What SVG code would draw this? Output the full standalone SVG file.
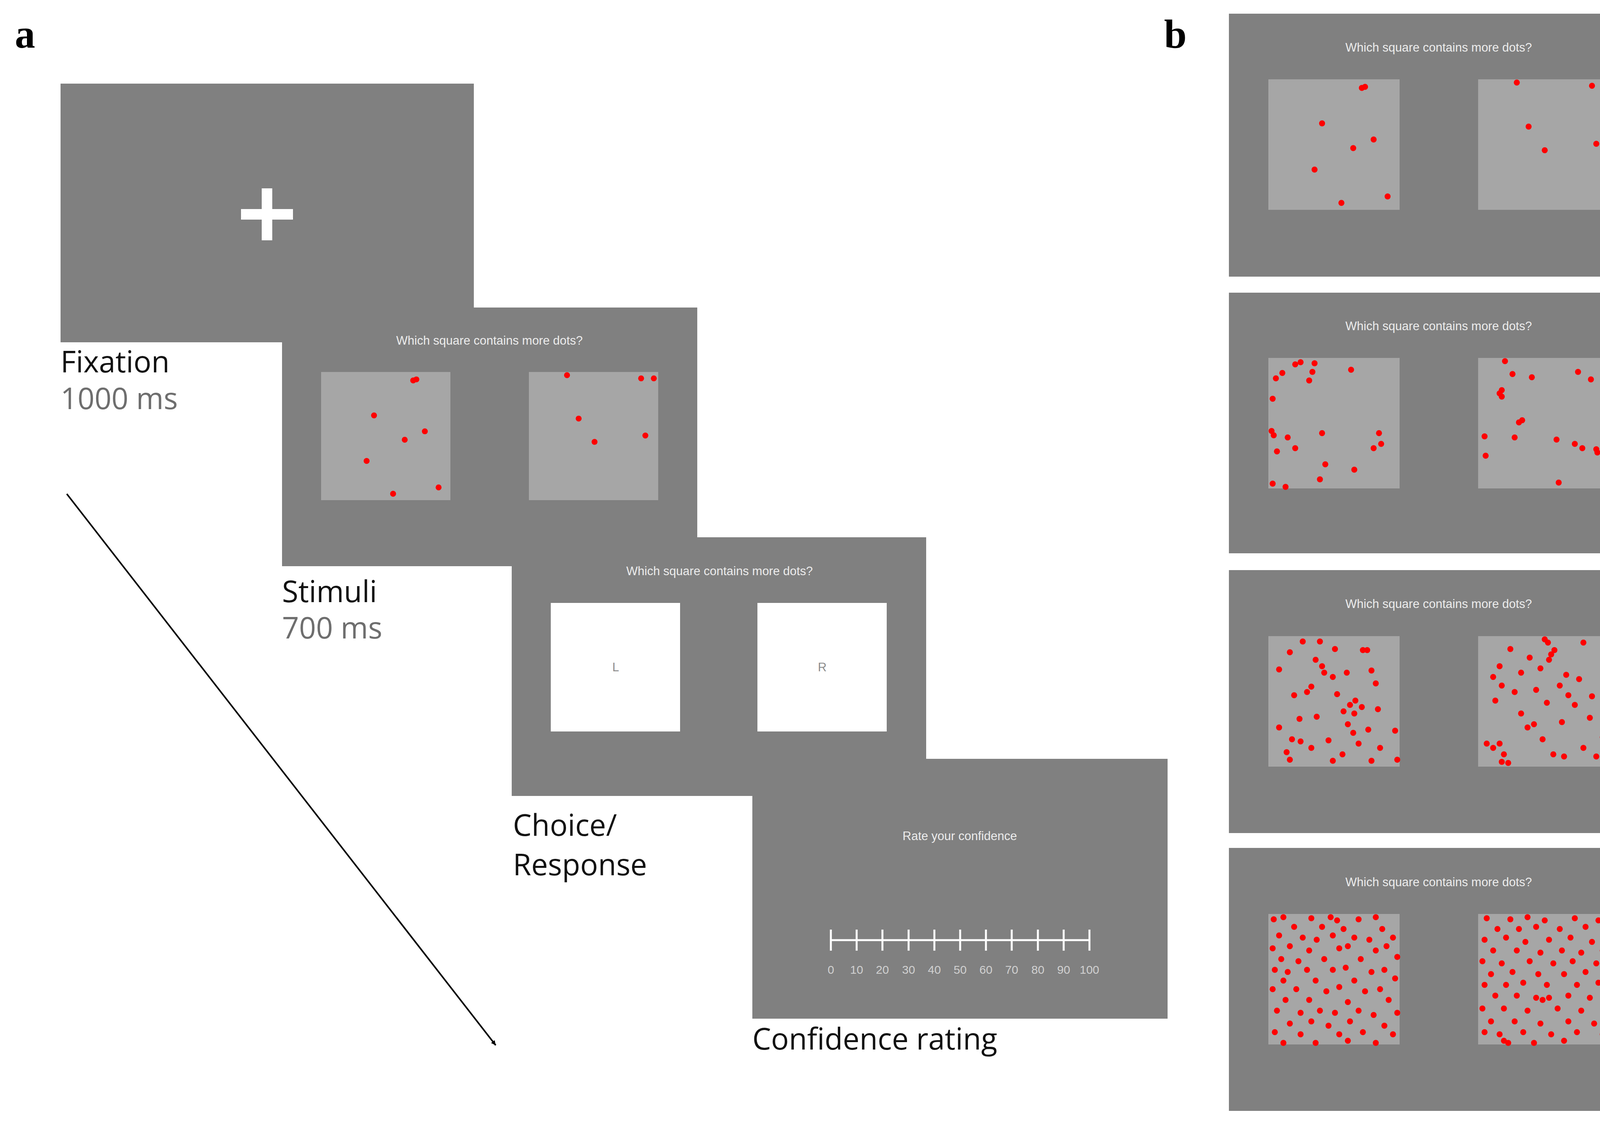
<svg xmlns="http://www.w3.org/2000/svg" width="4253" height="2874" viewBox="0 0 4253 2874">
<style>
.scr{fill:#808080}
.sq{fill:#a6a6a6}
.wsq{fill:#ffffff}
.q{font-family:"Liberation Sans",Arial,sans-serif;font-size:31px;fill:#ececec;text-anchor:middle}
.lab{font-family:"Open Sans","Liberation Sans",sans-serif;font-size:76px;fill:#111}
.sub{font-family:"Open Sans","Liberation Sans",sans-serif;font-size:76px;fill:#6e6e6e}
.pl{font-family:"Liberation Serif","Times New Roman",serif;font-weight:bold;font-size:104px;fill:#000}
.tk{font-family:"Liberation Sans",Arial,sans-serif;font-size:30px;fill:#d0d0d0;text-anchor:middle}
.d circle{fill:#ff0000}
</style>
<defs>
<marker id="ah" markerWidth="12" markerHeight="12" refX="10" refY="5" orient="auto" markerUnits="userSpaceOnUse" viewBox="0 0 10 10"><path d="M0,0 L10,5 L0,10 z" fill="#000"/></marker>
<g id="p1L" class="d"><circle cx="87" cy="8" r="2.8"/><circle cx="90" cy="7" r="2.8"/><circle cx="50" cy="41" r="2.8"/><circle cx="98" cy="56" r="2.8"/><circle cx="79" cy="64" r="2.8"/><circle cx="43" cy="84" r="2.8"/><circle cx="68" cy="115" r="2.8"/><circle cx="111" cy="109" r="2.8"/></g>
<g id="p1R" class="d"><circle cx="36" cy="3" r="2.8"/><circle cx="106" cy="6" r="2.8"/><circle cx="118" cy="6" r="2.8"/><circle cx="47" cy="44" r="2.8"/><circle cx="62" cy="66" r="2.8"/><circle cx="110" cy="60" r="2.8"/></g>
<g id="p2L" class="d"><circle cx="30" cy="4" r="2.8"/><circle cx="25" cy="6" r="2.8"/><circle cx="43" cy="5" r="2.8"/><circle cx="13" cy="14" r="2.8"/><circle cx="41" cy="13" r="2.8"/><circle cx="38" cy="21" r="2.8"/><circle cx="7" cy="19" r="2.8"/><circle cx="77" cy="11" r="2.8"/><circle cx="4" cy="38" r="2.8"/><circle cx="3" cy="68" r="2.8"/><circle cx="5" cy="72" r="2.8"/><circle cx="18" cy="74" r="2.8"/><circle cx="8" cy="87" r="2.8"/><circle cx="50" cy="70" r="2.8"/><circle cx="103" cy="70" r="2.8"/><circle cx="105" cy="80" r="2.8"/><circle cx="53" cy="99" r="2.8"/><circle cx="80" cy="104" r="2.8"/><circle cx="48" cy="113" r="2.8"/><circle cx="4" cy="117" r="2.8"/><circle cx="16" cy="120" r="2.8"/><circle cx="25" cy="84" r="2.8"/><circle cx="98" cy="84" r="2.8"/></g>
<g id="p2R" class="d"><circle cx="25" cy="3" r="2.8"/><circle cx="32" cy="15" r="2.8"/><circle cx="22" cy="30" r="2.8"/><circle cx="20" cy="33" r="2.8"/><circle cx="22" cy="36" r="2.8"/><circle cx="50" cy="18" r="2.8"/><circle cx="93" cy="13" r="2.8"/><circle cx="105" cy="20" r="2.8"/><circle cx="38" cy="60" r="2.8"/><circle cx="41" cy="58" r="2.8"/><circle cx="6" cy="73" r="2.8"/><circle cx="34" cy="74" r="2.8"/><circle cx="73" cy="76" r="2.8"/><circle cx="90" cy="80" r="2.8"/><circle cx="97" cy="84" r="2.8"/><circle cx="110" cy="85" r="2.8"/><circle cx="111" cy="88" r="2.8"/><circle cx="7" cy="91" r="2.8"/><circle cx="75" cy="116" r="2.8"/></g>
<g id="p3L" class="d"><circle cx="32" cy="5" r="2.8"/><circle cx="48" cy="5" r="2.8"/><circle cx="88" cy="13" r="2.8"/><circle cx="92" cy="13" r="2.8"/><circle cx="62" cy="12" r="2.8"/><circle cx="20" cy="15" r="2.8"/><circle cx="44" cy="22" r="2.8"/><circle cx="10" cy="31" r="2.8"/><circle cx="50" cy="28" r="2.8"/><circle cx="52" cy="34" r="2.8"/><circle cx="73" cy="34" r="2.8"/><circle cx="96" cy="32" r="2.8"/><circle cx="60" cy="38" r="2.8"/><circle cx="40" cy="47" r="2.8"/><circle cx="36" cy="52" r="2.8"/><circle cx="24" cy="55" r="2.8"/><circle cx="64" cy="54" r="2.8"/><circle cx="100" cy="44" r="2.8"/><circle cx="81" cy="60" r="2.8"/><circle cx="76" cy="64" r="2.8"/><circle cx="87" cy="66" r="2.8"/><circle cx="70" cy="70" r="2.8"/><circle cx="80" cy="72" r="2.8"/><circle cx="45" cy="75" r="2.8"/><circle cx="10" cy="85" r="2.8"/><circle cx="29" cy="77" r="2.8"/><circle cx="102" cy="68" r="2.8"/><circle cx="118" cy="88" r="2.8"/><circle cx="74" cy="82" r="2.8"/><circle cx="93" cy="87" r="2.8"/><circle cx="22" cy="96" r="2.8"/><circle cx="30" cy="98" r="2.8"/><circle cx="56" cy="97" r="2.8"/><circle cx="84" cy="100" r="2.8"/><circle cx="104" cy="104" r="2.8"/><circle cx="17" cy="108" r="2.8"/><circle cx="40" cy="104" r="2.8"/><circle cx="69" cy="110" r="2.8"/><circle cx="20" cy="115" r="2.8"/><circle cx="60" cy="116" r="2.8"/><circle cx="96" cy="116" r="2.8"/><circle cx="120" cy="115" r="2.8"/><circle cx="79" cy="90" r="2.8"/></g>
<g id="p3R" class="d"><circle cx="62" cy="3" r="2.8"/><circle cx="65" cy="6" r="2.8"/><circle cx="98" cy="6" r="2.8"/><circle cx="71" cy="13" r="2.8"/><circle cx="68" cy="17" r="2.8"/><circle cx="30" cy="12" r="2.8"/><circle cx="48" cy="20" r="2.8"/><circle cx="66" cy="22" r="2.8"/><circle cx="119" cy="24" r="2.8"/><circle cx="20" cy="28" r="2.8"/><circle cx="14" cy="38" r="2.8"/><circle cx="40" cy="34" r="2.8"/><circle cx="58" cy="30" r="2.8"/><circle cx="82" cy="36" r="2.8"/><circle cx="94" cy="40" r="2.8"/><circle cx="22" cy="46" r="2.8"/><circle cx="34" cy="52" r="2.8"/><circle cx="54" cy="50" r="2.8"/><circle cx="76" cy="46" r="2.8"/><circle cx="84" cy="55" r="2.8"/><circle cx="106" cy="56" r="2.8"/><circle cx="16" cy="60" r="2.8"/><circle cx="64" cy="62" r="2.8"/><circle cx="90" cy="64" r="2.8"/><circle cx="40" cy="72" r="2.8"/><circle cx="52" cy="82" r="2.8"/><circle cx="46" cy="85" r="2.8"/><circle cx="78" cy="80" r="2.8"/><circle cx="104" cy="76" r="2.8"/><circle cx="8" cy="100" r="2.8"/><circle cx="14" cy="104" r="2.8"/><circle cx="20" cy="100" r="2.8"/><circle cx="24" cy="110" r="2.8"/><circle cx="28" cy="118" r="2.8"/><circle cx="22" cy="117" r="2.8"/><circle cx="70" cy="110" r="2.8"/><circle cx="80" cy="112" r="2.8"/><circle cx="98" cy="104" r="2.8"/><circle cx="116" cy="94" r="2.8"/><circle cx="110" cy="112" r="2.8"/><circle cx="60" cy="96" r="2.8"/></g>
<g id="p4L" class="d"><circle cx="5" cy="5" r="2.8"/><circle cx="14" cy="3" r="2.8"/><circle cx="40" cy="4" r="2.8"/><circle cx="58" cy="3" r="2.8"/><circle cx="64" cy="6" r="2.8"/><circle cx="84" cy="5" r="2.8"/><circle cx="100" cy="3" r="2.8"/><circle cx="24" cy="12" r="2.8"/><circle cx="50" cy="12" r="2.8"/><circle cx="70" cy="14" r="2.8"/><circle cx="106" cy="14" r="2.8"/><circle cx="10" cy="20" r="2.8"/><circle cx="32" cy="22" r="2.8"/><circle cx="45" cy="24" r="2.8"/><circle cx="60" cy="20" r="2.8"/><circle cx="80" cy="22" r="2.8"/><circle cx="94" cy="24" r="2.8"/><circle cx="116" cy="22" r="2.8"/><circle cx="4" cy="32" r="2.8"/><circle cx="20" cy="30" r="2.8"/><circle cx="38" cy="34" r="2.8"/><circle cx="66" cy="32" r="2.8"/><circle cx="74" cy="30" r="2.8"/><circle cx="100" cy="34" r="2.8"/><circle cx="110" cy="30" r="2.8"/><circle cx="12" cy="42" r="2.8"/><circle cx="28" cy="44" r="2.8"/><circle cx="52" cy="42" r="2.8"/><circle cx="86" cy="42" r="2.8"/><circle cx="120" cy="40" r="2.8"/><circle cx="6" cy="52" r="2.8"/><circle cx="18" cy="54" r="2.8"/><circle cx="36" cy="52" r="2.8"/><circle cx="60" cy="52" r="2.8"/><circle cx="72" cy="50" r="2.8"/><circle cx="96" cy="54" r="2.8"/><circle cx="108" cy="52" r="2.8"/><circle cx="14" cy="62" r="2.8"/><circle cx="44" cy="62" r="2.8"/><circle cx="80" cy="62" r="2.8"/><circle cx="118" cy="60" r="2.8"/><circle cx="4" cy="70" r="2.8"/><circle cx="26" cy="70" r="2.8"/><circle cx="54" cy="72" r="2.8"/><circle cx="66" cy="68" r="2.8"/><circle cx="90" cy="72" r="2.8"/><circle cx="104" cy="70" r="2.8"/><circle cx="16" cy="80" r="2.8"/><circle cx="38" cy="80" r="2.8"/><circle cx="74" cy="82" r="2.8"/><circle cx="112" cy="80" r="2.8"/><circle cx="8" cy="90" r="2.8"/><circle cx="30" cy="92" r="2.8"/><circle cx="48" cy="90" r="2.8"/><circle cx="62" cy="92" r="2.8"/><circle cx="84" cy="90" r="2.8"/><circle cx="98" cy="94" r="2.8"/><circle cx="120" cy="92" r="2.8"/><circle cx="20" cy="102" r="2.8"/><circle cx="40" cy="100" r="2.8"/><circle cx="56" cy="104" r="2.8"/><circle cx="76" cy="100" r="2.8"/><circle cx="108" cy="104" r="2.8"/><circle cx="6" cy="110" r="2.8"/><circle cx="30" cy="112" r="2.8"/><circle cx="66" cy="112" r="2.8"/><circle cx="88" cy="110" r="2.8"/><circle cx="116" cy="112" r="2.8"/><circle cx="14" cy="120" r="2.8"/><circle cx="44" cy="120" r="2.8"/><circle cx="74" cy="118" r="2.8"/><circle cx="100" cy="120" r="2.8"/></g>
<g id="p4R" class="d"><circle cx="8" cy="4" r="2.8"/><circle cx="30" cy="5" r="2.8"/><circle cx="46" cy="3" r="2.8"/><circle cx="62" cy="6" r="2.8"/><circle cx="90" cy="4" r="2.8"/><circle cx="112" cy="6" r="2.8"/><circle cx="18" cy="14" r="2.8"/><circle cx="38" cy="14" r="2.8"/><circle cx="54" cy="12" r="2.8"/><circle cx="76" cy="14" r="2.8"/><circle cx="100" cy="12" r="2.8"/><circle cx="118" cy="16" r="2.8"/><circle cx="6" cy="24" r="2.8"/><circle cx="26" cy="22" r="2.8"/><circle cx="44" cy="26" r="2.8"/><circle cx="66" cy="24" r="2.8"/><circle cx="86" cy="22" r="2.8"/><circle cx="106" cy="26" r="2.8"/><circle cx="14" cy="34" r="2.8"/><circle cx="36" cy="34" r="2.8"/><circle cx="58" cy="36" r="2.8"/><circle cx="78" cy="34" r="2.8"/><circle cx="96" cy="36" r="2.8"/><circle cx="116" cy="34" r="2.8"/><circle cx="4" cy="44" r="2.8"/><circle cx="22" cy="46" r="2.8"/><circle cx="48" cy="44" r="2.8"/><circle cx="70" cy="46" r="2.8"/><circle cx="88" cy="44" r="2.8"/><circle cx="110" cy="46" r="2.8"/><circle cx="12" cy="56" r="2.8"/><circle cx="32" cy="54" r="2.8"/><circle cx="56" cy="56" r="2.8"/><circle cx="80" cy="56" r="2.8"/><circle cx="100" cy="54" r="2.8"/><circle cx="120" cy="56" r="2.8"/><circle cx="6" cy="66" r="2.8"/><circle cx="26" cy="66" r="2.8"/><circle cx="42" cy="64" r="2.8"/><circle cx="64" cy="66" r="2.8"/><circle cx="92" cy="66" r="2.8"/><circle cx="112" cy="64" r="2.8"/><circle cx="16" cy="76" r="2.8"/><circle cx="36" cy="76" r="2.8"/><circle cx="54" cy="78" r="2.8"/><circle cx="60" cy="80" r="2.8"/><circle cx="66" cy="78" r="2.8"/><circle cx="84" cy="76" r="2.8"/><circle cx="104" cy="78" r="2.8"/><circle cx="4" cy="88" r="2.8"/><circle cx="24" cy="88" r="2.8"/><circle cx="46" cy="90" r="2.8"/><circle cx="74" cy="88" r="2.8"/><circle cx="96" cy="90" r="2.8"/><circle cx="118" cy="88" r="2.8"/><circle cx="12" cy="100" r="2.8"/><circle cx="34" cy="100" r="2.8"/><circle cx="58" cy="102" r="2.8"/><circle cx="84" cy="100" r="2.8"/><circle cx="108" cy="102" r="2.8"/><circle cx="6" cy="110" r="2.8"/><circle cx="20" cy="112" r="2.8"/><circle cx="42" cy="110" r="2.8"/><circle cx="68" cy="112" r="2.8"/><circle cx="92" cy="110" r="2.8"/><circle cx="116" cy="112" r="2.8"/><circle cx="24" cy="118" r="2.8"/><circle cx="28" cy="120" r="2.8"/><circle cx="52" cy="120" r="2.8"/><circle cx="80" cy="118" r="2.8"/></g>
</defs>
<rect width="4253" height="2874" fill="#ffffff"/>
<text class="pl" x="38" y="122">a</text>
<text class="pl" x="2980" y="122">b</text>
<g id="fixation">
<rect class="scr" x="155" y="214" width="1058" height="662"/>
<rect x="617" y="535" width="133" height="27" fill="#fff"/>
<rect x="670" y="482" width="27" height="133" fill="#fff"/>
<text class="lab" x="155" y="953">Fixation</text>
<text class="sub" x="155" y="1047">1000 ms</text>
</g>
<g id="stimuli">
<rect class="scr" x="722" y="787" width="1063" height="662"/>
<text class="q" x="1253" y="882">Which square contains more dots?</text>
<rect class="sq" x="822" y="952" width="331" height="328"/>
<rect class="sq" x="1354" y="952" width="331" height="328"/>
<use href="#p1L" transform="translate(822,952) scale(2.71)"/>
<use href="#p1R" transform="translate(1354,952) scale(2.71)"/>
<text class="lab" x="722" y="1541">Stimuli</text>
<text class="sub" x="722" y="1634">700 ms</text>
</g>
<g id="choice">
<rect class="scr" x="1310" y="1375" width="1061" height="662"/>
<text class="q" x="1842" y="1472">Which square contains more dots?</text>
<rect class="wsq" x="1410" y="1543" width="331" height="329"/>
<rect class="wsq" x="1939" y="1543" width="331" height="329"/>
<text class="q" x="1576" y="1718" style="fill:#8c8c8c">L</text>
<text class="q" x="2105" y="1718" style="fill:#8c8c8c">R</text>
<text class="lab" x="1313" y="2139">Choice/</text>
<text class="lab" x="1313" y="2240">Response</text>
</g>
<g id="confidence">
<rect class="scr" x="1926" y="1942" width="1063" height="665"/>
<text class="q" x="2457" y="2150">Rate your confidence</text>
<g stroke="#fff" stroke-width="5">
<line x1="2127" y1="2406" x2="2789" y2="2406"/>
<path d="M2127,2379V2433M2193,2379V2433M2259,2379V2433M2326,2379V2433M2392,2379V2433M2458,2379V2433M2524,2379V2433M2590,2379V2433M2657,2379V2433M2723,2379V2433M2789,2379V2433"/>
</g>
<text class="tk" x="2127" y="2492">0</text><text class="tk" x="2193" y="2492">10</text><text class="tk" x="2259" y="2492">20</text><text class="tk" x="2326" y="2492">30</text><text class="tk" x="2392" y="2492">40</text><text class="tk" x="2458" y="2492">50</text><text class="tk" x="2524" y="2492">60</text><text class="tk" x="2590" y="2492">70</text><text class="tk" x="2657" y="2492">80</text><text class="tk" x="2723" y="2492">90</text><text class="tk" x="2789" y="2492">100</text>
<text class="lab" x="1926" y="2686">Confidence rating</text>
</g>
<g id="connectors">
<line x1="171" y1="1264" x2="1269" y2="2675" stroke="#000" stroke-width="4" marker-end="url(#ah)"/>
</g>
<g id="b1">
<rect class="scr" x="3146" y="35" width="1075" height="673"/>
<text class="q" x="3683" y="132">Which square contains more dots?</text>
<rect class="sq" x="3247" y="203" width="336" height="334"/><rect class="sq" x="3784" y="203" width="336" height="334"/>
<use href="#p1L" transform="translate(3247,203) scale(2.75)"/><use href="#p1R" transform="translate(3784,203) scale(2.75)"/>
</g>
<g id="b2">
<rect class="scr" x="3146" y="749" width="1075" height="667"/>
<text class="q" x="3683" y="845">Which square contains more dots?</text>
<rect class="sq" x="3247" y="916" width="336" height="334"/><rect class="sq" x="3784" y="916" width="336" height="334"/>
<use href="#p2L" transform="translate(3247,916) scale(2.75)"/><use href="#p2R" transform="translate(3784,916) scale(2.75)"/>
</g>
<g id="b3">
<rect class="scr" x="3146" y="1459" width="1075" height="673"/>
<text class="q" x="3683" y="1556">Which square contains more dots?</text>
<rect class="sq" x="3247" y="1628" width="336" height="334"/><rect class="sq" x="3784" y="1628" width="336" height="334"/>
<use href="#p3L" transform="translate(3247,1628) scale(2.75)"/><use href="#p3R" transform="translate(3784,1628) scale(2.75)"/>
</g>
<g id="b4">
<rect class="scr" x="3146" y="2170" width="1075" height="673"/>
<text class="q" x="3683" y="2268">Which square contains more dots?</text>
<rect class="sq" x="3247" y="2339" width="336" height="334"/><rect class="sq" x="3784" y="2339" width="336" height="334"/>
<use href="#p4L" transform="translate(3247,2339) scale(2.75)"/><use href="#p4R" transform="translate(3784,2339) scale(2.75)"/>
</g>
</svg>
